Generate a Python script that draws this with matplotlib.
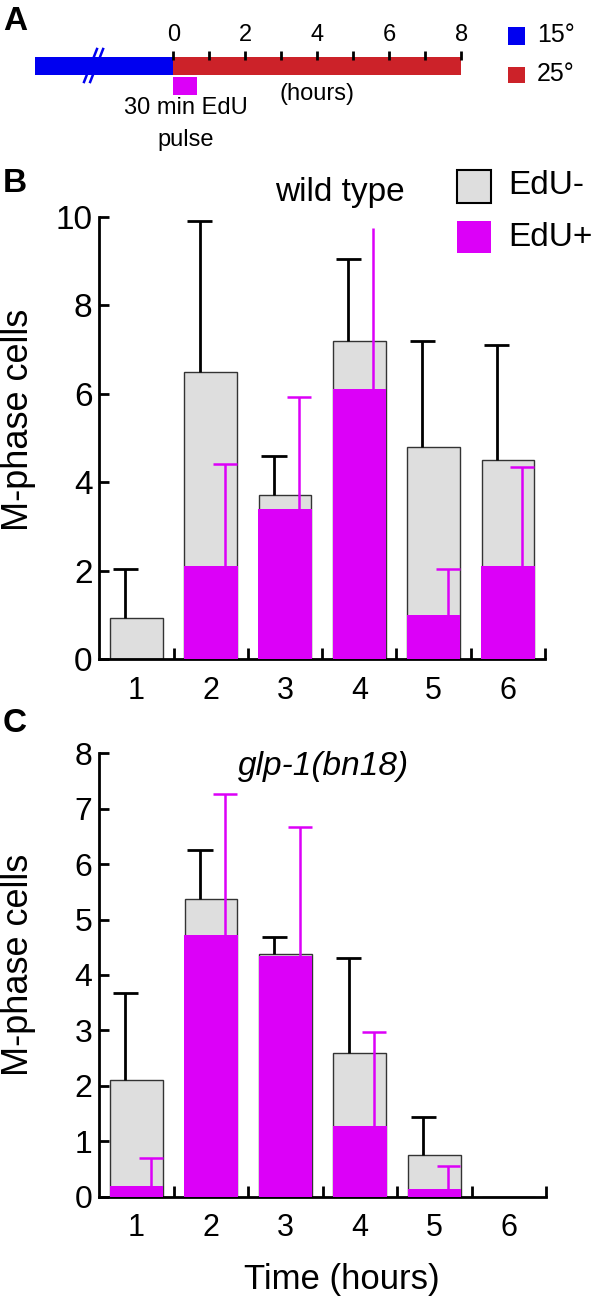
import matplotlib.pyplot as plt
from matplotlib.patches import Rectangle

plt.rcParams['font.family'] = ['Liberation Sans', 'DejaVu Sans']

W, H = 601, 1302
GRAY = '#dedede'
MAG = '#dc00f8'
BLUE = '#0000f0'
RED = '#cc2229'

# x categories (hours after pulse)
times = [1, 2, 3, 4, 5, 6]

# B: wild type  (EdU- bar height = total, EdU+ drawn on top of it)
wt_total = [0.93, 6.5, 3.7, 7.2, 4.8, 4.5]
wt_total_sd = [1.11, 3.4, 0.9, 1.85, 2.4, 2.6]
wt_pos = [0.0, 2.1, 3.4, 6.1, 1.0, 2.1]
wt_pos_sd = [0.0, 2.32, 2.53, 3.64, 1.03, 2.25]
wt_pos_cap = [1, 1, 1, 0, 1, 1]

# C: glp-1(bn18)
glp_total = [2.1, 5.38, 4.38, 2.6, 0.75, 0.0]
glp_total_sd = [1.57, 0.88, 0.30, 1.71, 0.68, 0.0]
glp_pos = [0.2, 4.73, 4.34, 1.28, 0.14, 0.0]
glp_pos_sd = [0.50, 2.53, 2.33, 1.69, 0.42, 0.0]
glp_pos_cap = [1, 1, 1, 1, 1, 1]

# A: timeline (hours)
hour_ticks = [0, 1, 2, 3, 4, 5, 6, 7, 8]
hour_labels = [0, 2, 4, 6, 8]
cold_start = -3.85
pulse_len = 0.65


def fx(px):
    return px / W


def fy(py):
    return 1 - py / H


def draw_panel(ax, total, total_sd, pos, pos_sd, pos_cap, ymax, tick_fs):
    ax.bar(times, total, width=0.71, color=GRAY, edgecolor='#333333',
           linewidth=1, zorder=2)
    ax.bar(times, pos, width=0.72, color=MAG, linewidth=0, zorder=3)
    for t, top, sd in zip(times, total, total_sd):
        if sd > 0:
            ax.vlines(t - 0.15, top, top + sd, color='black', lw=2, zorder=4)
            ax.hlines(top + sd, t - 0.32, t + 0.02, color='black', lw=2, zorder=4)
    for t, top, sd, cap in zip(times, pos, pos_sd, pos_cap):
        if sd > 0:
            ax.vlines(t + 0.19, top, top + sd, color=MAG, lw=1.8, zorder=4)
            if cap:
                ax.hlines(top + sd, t + 0.03, t + 0.35, color=MAG, lw=1.8, zorder=4)

    ax.set_xlim(0.5, 6.5)
    ax.set_ylim(0, ymax)
    ax.spines['top'].set_visible(False)
    ax.spines['right'].set_visible(False)
    for s in ['left', 'bottom']:
        ax.spines[s].set_linewidth(2)
    ax.set_xticks([1.5, 2.5, 3.5, 4.5, 5.5, 6.5])
    ax.set_xticklabels([])
    ax.set_xticks(times, minor=True)
    ax.set_xticklabels([str(t) for t in times], minor=True, fontsize=22)
    ax.tick_params(axis='x', which='major', direction='in', length=8, width=2)
    ax.tick_params(axis='x', which='minor', length=0, pad=12)
    ax.tick_params(axis='y', direction='in', length=7.5, width=2,
                   labelsize=tick_fs, pad=5)


fig = plt.figure(figsize=(6.01, 13.02), dpi=100)

# ---- panel A: schematic timeline
x0, scale = 173.3, 36.0
ax_a = fig.add_axes([0, fy(130), 1, 130 / H])
ax_a.set_xlim(-x0 / scale, (W - x0) / scale)
ax_a.set_ylim(130, 0)
ax_a.axis('off')
ax_a.barh(66, 0 - cold_start, left=cold_start, height=18, color=BLUE)
ax_a.barh(66, hour_ticks[-1], left=0, height=18, color=RED)
ax_a.barh(86, pulse_len, left=0, height=18, color=MAG)
ax_a.vlines(hour_ticks, 51, 60, color='black', lw=2)
for h in hour_labels:
    ax_a.text(h, 35, str(h), ha='center', va='center', fontsize=17)
for dx in [0, 0.17]:
    ax_a.plot([-2.48 + dx, -2.12 + dx], [82, 49], color=BLUE, lw=1.8)
ax_a.text(0.35, 108.5, '30 min EdU', ha='center', va='center', fontsize=17)
ax_a.text(0.35, 140, 'pulse', ha='center', va='center', fontsize=17)
ax_a.text(4.0, 94, '(hours)', ha='center', va='center', fontsize=17)
ax_a.barh(36, 0.47, left=9.29, height=18, color=BLUE)
ax_a.barh(75, 0.47, left=9.29, height=16, color=RED)
ax_a.text(10.1, 35, '15°', ha='left', va='center', fontsize=18)
ax_a.text(10.1, 74, '25°', ha='left', va='center', fontsize=18)

# ---- panel B
ax_b = fig.add_axes([fx(99.4), fy(659), fx(545) - fx(99.4), (659 - 216.7) / H])
draw_panel(ax_b, wt_total, wt_total_sd, wt_pos, wt_pos_sd, wt_pos_cap, 10, 24)
ax_b.set_yticks([0, 2, 4, 6, 8, 10])

# ---- panel C
ax_c = fig.add_axes([fx(99.4), fy(1196.7), fx(546) - fx(99.4), (1196.7 - 753.3) / H])
draw_panel(ax_c, glp_total, glp_total_sd, glp_pos, glp_pos_sd, glp_pos_cap, 8, 23)
ax_c.set_yticks(range(0, 9))

# texts
fig.text(fx(339.5), fy(192), 'wild type', ha='center', va='center', fontsize=24)
fig.text(fx(323.6), fy(766), 'glp-1(bn18)', ha='center', va='center',
         fontsize=24, style='italic')
fig.text(fx(341.8), fy(1280), 'Time (hours)', ha='center', va='center', fontsize=25)
for yc in [419.5, 964.5]:
    fig.text(fx(19), fy(yc), 'M-phase cells', rotation=90, ha='center',
             va='center', fontsize=26)

# legend for B
fig.add_artist(Rectangle((fx(456.5), fy(202.7)), fx(491) - fx(456.5), 32.7 / H,
                         transform=fig.transFigure, facecolor=GRAY,
                         edgecolor='black', lw=1.5))
fig.add_artist(Rectangle((fx(456.5), fy(253)), fx(491) - fx(456.5), 32.3 / H,
                         transform=fig.transFigure, facecolor=MAG, lw=0))
fig.text(fx(508.5), fy(186), 'EdU-', ha='left', va='center', fontsize=24)
fig.text(fx(508.5), fy(237), 'EdU+', ha='left', va='center', fontsize=24)

# panel letters
for lab, yc in [('A', 21), ('B', 184), ('C', 723)]:
    fig.text(fx(3), fy(yc), lab, ha='left', va='center', fontsize=24,
             fontweight='bold')

fig.savefig('out.png', dpi=100)
